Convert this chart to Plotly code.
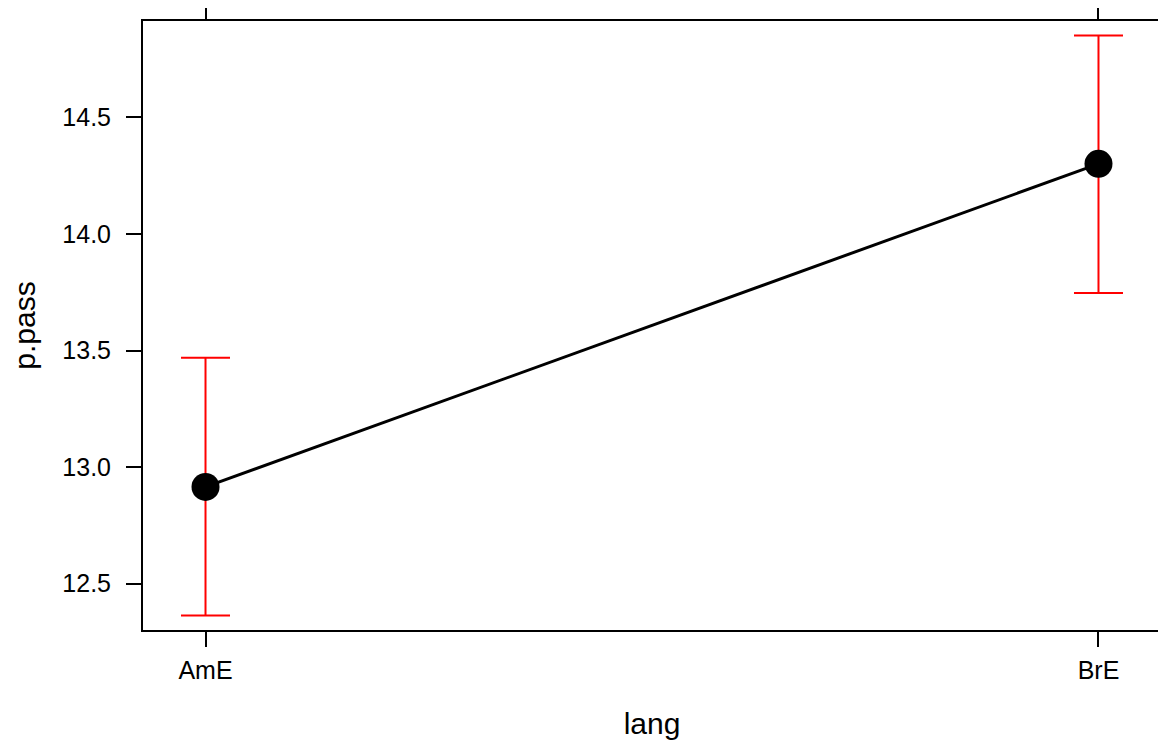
import plotly.graph_objects as go

# Data (effect plot)
lang = ["AmE", "BrE"]
fit = [12.915, 14.301]
lower = [12.363, 13.747]
upper = [13.469, 14.852]

y_ticks = [12.5, 13.0, 13.5, 14.0, 14.5]

err_plus = [u - f for u, f in zip(upper, fit)]
err_minus = [f - l for f, l in zip(fit, lower)]

fig = go.Figure()

# confidence intervals (drawn first so the points sit on top)
fig.add_trace(go.Scatter(
    x=lang, y=fit, mode="markers",
    marker=dict(size=1, color="rgba(0,0,0,0)"),
    error_y=dict(type="data", symmetric=False, array=err_plus, arrayminus=err_minus,
                 color="#FF0000", thickness=2, width=24.5),
    showlegend=False, hoverinfo="skip",
))

# fitted effects
fig.add_trace(go.Scatter(
    x=lang, y=fit, mode="lines+markers",
    line=dict(color="black", width=3),
    marker=dict(size=28, color="black"),
    showlegend=False,
))

font_family = "Liberation Sans, Arial, Helvetica, sans-serif"

# the page body adds an 8px offset, so margins are shifted by 8px
fig.update_layout(
    width=1166, height=742,
    margin=dict(l=135, r=13, t=13, b=120, autoexpand=False),
    paper_bgcolor="white", plot_bgcolor="white",
    font=dict(family=font_family, color="black", size=25),
    xaxis=dict(
        type="category", range=[-0.07, 1.07],
        showgrid=False, zeroline=False,
        showline=True, linecolor="black", linewidth=2, mirror="ticks",
        ticks="outside", ticklen=15, tickwidth=2, tickcolor="black",
        tickfont=dict(size=25), ticklabelstandoff=2,
        title=dict(text="lang", font=dict(size=30), standoff=30),
    ),
    yaxis=dict(
        range=[12.301, 14.914],
        tickvals=y_ticks, tickformat=".1f",
        showgrid=False, zeroline=False,
        showline=True, linecolor="black", linewidth=2, mirror="ticks",
        ticks="outside", ticklen=15, tickwidth=2, tickcolor="black",
        tickfont=dict(size=25), ticklabelstandoff=10,
        title=dict(text="p.pass", font=dict(size=30), standoff=25),
    ),
)

fig.write_html("out.html")
